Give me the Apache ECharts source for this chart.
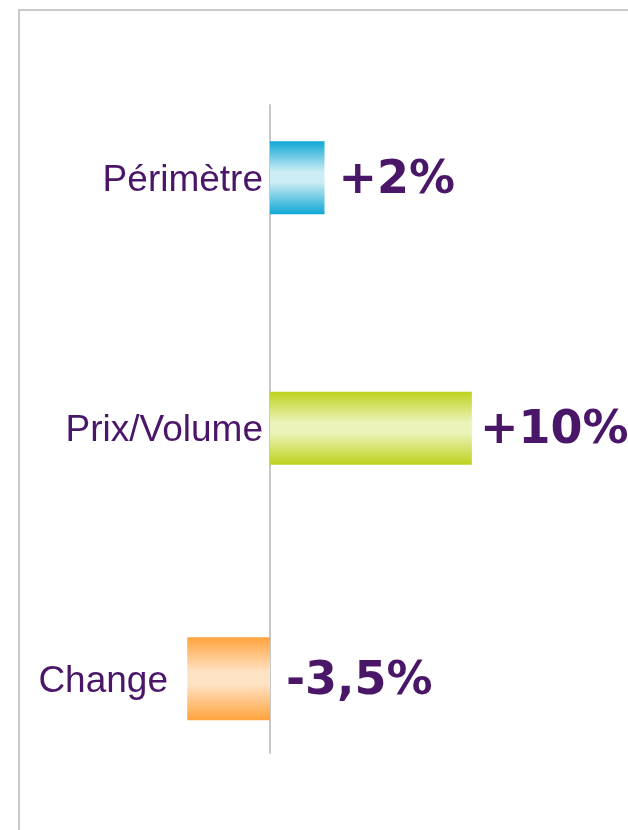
<!DOCTYPE html>
<html>
<head>
<meta charset="utf-8">
<script src="https://cdn.jsdelivr.net/npm/echarts@6/dist/echarts.min.js"></script>
<style>
  html, body { margin: 0; padding: 0; overflow: hidden; background: #fff; }
  #chart { width: 628px; height: 830px; position: relative; }
  #frame { position: absolute; left: 18px; top: 9px; width: 700px; height: 900px;
           border: 2px solid #c9c9c9; pointer-events: none; }
</style>
</head>
<body>
<div id="chart"></div>
<div id="frame"></div>
<script>
// categories, top to bottom
const categories = ['Périmètre', 'Prix/Volume', 'Change'];
// bar lengths as drawn in the picture
const barValues = [2.7, 10, -4.1];
// printed value labels
const valueLabels = ['+2%', '+10%', '-3,5%'];
const barColors = [
  ['#0fa7d4', '#cdedf5'],
  ['#bed21e', '#ebf3ba'],
  ['#ffa33d', '#ffe3c5']
];
// gap between bar end and value label
const labelGap = [14, 8, 16];

const purple = '#4a1668';

function grad(c) {
  return new echarts.graphic.LinearGradient(0, 0, 0, 1, [
    { offset: 0, color: c[0] },
    { offset: 0.42, color: c[1] },
    { offset: 0.56, color: c[1] },
    { offset: 1, color: c[0] }
  ]);
}

function item(i) {
  return {
    value: barValues[i],
    itemStyle: { color: grad(barColors[i]) },
    label: {
      show: true,
      position: 'right',
      distance: labelGap[i],
      formatter: valueLabels[i]
    }
  };
}

const valueLabelStyle = {
  color: purple,
  fontFamily: 'DejaVu Sans',
  fontWeight: 'bold',
  fontSize: 46,
  offset: [0, 3]
};

const chart = echarts.init(document.getElementById('chart'));
const option = {
  animation: false,
  // grid 0 holds the bars and names, grid 1 only draws the shorter axis line
  grid: [
    { left: 270, right: 35, top: 52.5, height: 751.5, containLabel: false, outerBoundsMode: 'none' },
    { left: 270, right: 35, top: 105, height: 648, containLabel: false, outerBoundsMode: 'none' }
  ],
  xAxis: [
    { type: 'value', gridIndex: 0, min: 0, max: 16, show: false },
    { type: 'value', gridIndex: 1, min: 0, max: 16, show: false }
  ],
  yAxis: [
    {
      type: 'category', gridIndex: 0, inverse: true, data: categories,
      axisLine: { show: false },
      axisTick: { show: false },
      splitLine: { show: false },
      axisLabel: {
        margin: 7,
        padding: [6, 0, 0, 0],
        color: purple,
        fontFamily: 'Liberation Sans',
        fontSize: 37,
        formatter: function (v) {
          return v === 'Change' ? '{far|' + v + '}' : v;
        },
        rich: {
          far: {
            padding: [0, 95, 0, 0],
            color: purple,
            fontFamily: 'Liberation Sans',
            fontSize: 37
          }
        }
      }
    },
    {
      type: 'category', gridIndex: 0, inverse: true, data: categories, show: false,
      position: 'right'
    },
    {
      type: 'category', gridIndex: 1, inverse: true, data: categories,
      axisLine: { show: true, lineStyle: { color: '#c8c8c8', width: 2 } },
      axisTick: { show: false },
      axisLabel: { show: false },
      splitLine: { show: false }
    }
  ],
  series: [
    {
      type: 'bar',
      xAxisIndex: 0,
      yAxisIndex: 0,
      barWidth: 73,
      clip: false,
      data: [item(0), item(1), '-'],
      label: valueLabelStyle,
      z: 3
    },
    {
      type: 'bar',
      xAxisIndex: 0,
      yAxisIndex: 1,
      barWidth: 83,
      clip: false,
      data: ['-', '-', item(2)],
      label: valueLabelStyle,
      z: 1
    }
  ]
};
chart.setOption(option);
</script>
</body>
</html>
